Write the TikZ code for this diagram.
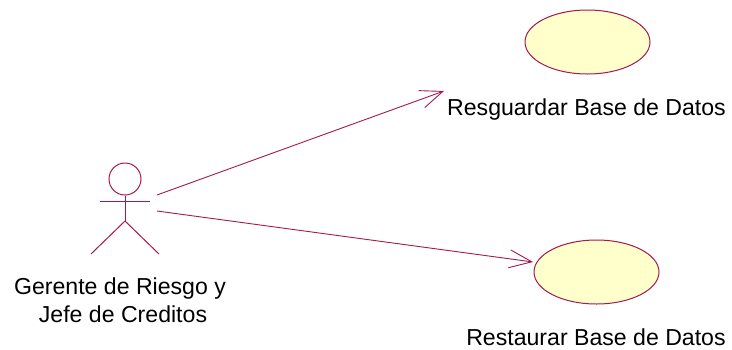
\documentclass[tikz,border=0pt]{standalone}
\usepackage{fontspec}
\setmainfont{Liberation Sans}
\usetikzlibrary{arrows.meta,shapes.geometric}
\definecolor{umlline}{RGB}{165,25,80}
\definecolor{umlfill}{RGB}{255,255,204}
\tikzset{
  x=1pt,y=-1pt,
  usecase/.style={ellipse,draw=umlline,fill=umlfill,line width=1pt,minimum width=125pt,minimum height=64pt,inner sep=0pt},
  lbl/.style={inner sep=0pt,font=\fontsize{23.1pt}{26pt}\selectfont,text=black,anchor=base},
  actorline/.style={draw=umlline,line width=1pt},
  assoc/.style={draw=umlline,line width=0.9pt,-{Straight Barb[length=22.5pt,width=18pt,line width=0.9pt]}}
}
\begin{document}
\begin{tikzpicture}
\useasboundingbox (0,0) rectangle (732,349);
\node[usecase] (uc1) at (587.5,42) {};
\node[usecase] (uc2) at (596.5,272) {};
\node[lbl] (t1) at (586.5,115) {Resguardar Base de Datos};
\node[lbl] (t2) at (596,345) {Restaurar Base de Datos};
\node[lbl] (a1) at (120,294) {Gerente de Riesgo y};
\node[lbl] (a2) at (123,322) {Jefe de Creditos};
\node[circle,actorline,minimum size=32pt,inner sep=0pt] (head) at (125,179) {};
\coordinate (hip) at (125,221);
\coordinate (armL) at (100,201);
\coordinate (armR) at (150,201);
\coordinate (legL) at (91,254);
\coordinate (legR) at (159,254);
\draw[actorline] (head.south) -- (hip);
\draw[actorline] (armL) -- (armR);
\draw[actorline] (legL) -- (hip) -- (legR);
\coordinate (s1) at (157,195);
\coordinate (e1) at (444,91);
\coordinate (s2) at (157,211);
\coordinate (e2) at (533,262);
\draw[assoc] (s1) -- (e1);
\draw[assoc] (s2) -- (e2);
\end{tikzpicture}
\end{document}
